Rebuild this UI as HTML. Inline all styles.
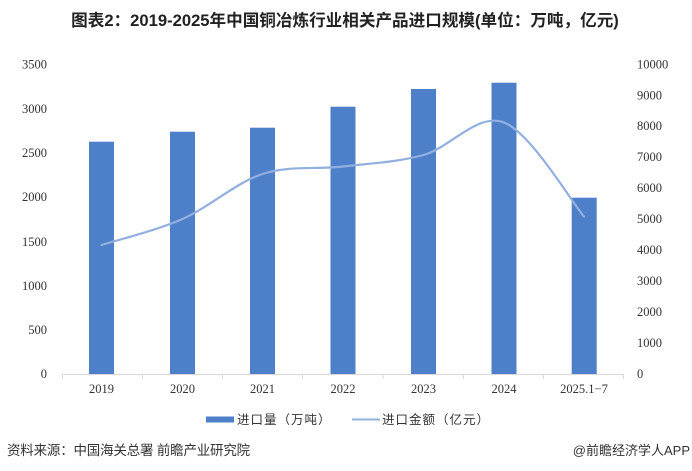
<!DOCTYPE html>
<html>
<head>
<meta charset="utf-8">
<style>
  html,body{margin:0;padding:0;background:#fff;}
  body{width:692px;height:471px;overflow:hidden;}
  svg{display:block;}
  .title{font-family:"Liberation Sans","Noto Sans CJK SC",sans-serif;font-weight:bold;font-size:16.6px;fill:#222;}
  .tick{font-family:"Liberation Serif","Noto Serif CJK SC",serif;font-size:12.5px;fill:#333;}
  .leg{font-family:"Liberation Sans","Noto Sans CJK SC",sans-serif;font-size:12.5px;fill:#333;letter-spacing:1px;}
  .src{font-family:"Liberation Sans","Noto Sans CJK SC",sans-serif;font-size:13.5px;fill:#333;}
</style>
</head>
<body>
<svg width="692" height="471" viewBox="0 0 692 471" xmlns="http://www.w3.org/2000/svg">
  <rect width="692" height="471" fill="#fff"/>
  <text class="title" x="345" y="26" text-anchor="middle">图表2：2019-2025年中国铜冶炼行业相关产品进口规模(单位：万吨，亿元)</text>

  <!-- left axis labels -->
  <g class="tick" text-anchor="end">
    <text x="47" y="378">0</text>
    <text x="47" y="334">500</text>
    <text x="47" y="290">1000</text>
    <text x="47" y="246">1500</text>
    <text x="47" y="201">2000</text>
    <text x="47" y="157">2500</text>
    <text x="47" y="113">3000</text>
    <text x="47" y="68.5">3500</text>
  </g>
  <!-- right axis labels -->
  <g class="tick" text-anchor="start">
    <text x="637" y="378">0</text>
    <text x="637" y="347">1000</text>
    <text x="637" y="316">2000</text>
    <text x="637" y="285">3000</text>
    <text x="637" y="254">4000</text>
    <text x="637" y="223">5000</text>
    <text x="637" y="192">6000</text>
    <text x="637" y="161">7000</text>
    <text x="637" y="130">8000</text>
    <text x="637" y="99.5">9000</text>
    <text x="637" y="68.5">10000</text>
  </g>

  <!-- bars -->
  <g fill="#4d80c8">
    <rect x="89" y="141.7" width="25" height="232.3"/>
    <rect x="170" y="131.7" width="25" height="242.3"/>
    <rect x="250" y="127.7" width="25" height="246.3"/>
    <rect x="330.5" y="106.7" width="25" height="267.3"/>
    <rect x="411" y="89" width="25" height="285"/>
    <rect x="491.5" y="82.7" width="25" height="291.3"/>
    <rect x="571.7" y="197.7" width="25" height="176.3"/>
  </g>

  <!-- x axis -->
  <g stroke="#d9d9d9" stroke-width="1">
    <line x1="62" y1="374.5" x2="624" y2="374.5"/>
    <line x1="62.5" y1="374" x2="62.5" y2="379"/>
    <line x1="142.5" y1="374" x2="142.5" y2="379"/>
    <line x1="222.5" y1="374" x2="222.5" y2="379"/>
    <line x1="302.5" y1="374" x2="302.5" y2="379"/>
    <line x1="383" y1="374" x2="383" y2="379"/>
    <line x1="463.5" y1="374" x2="463.5" y2="379"/>
    <line x1="543.5" y1="374" x2="543.5" y2="379"/>
    <line x1="623.5" y1="374" x2="623.5" y2="379"/>
  </g>
  <g class="tick" text-anchor="middle">
    <text x="101.5" y="393">2019</text>
    <text x="182.5" y="393">2020</text>
    <text x="262.5" y="393">2021</text>
    <text x="343" y="393">2022</text>
    <text x="423.5" y="393">2023</text>
    <text x="504" y="393">2024</text>
    <text x="584" y="393">2025.1−7</text>
  </g>

  <!-- line -->
  <path d="M101.5,245 C115,240.67 155.67,230.83 182.5,219 C209.33,207.17 235.75,182.75 262.5,174 C289.25,165.25 316.17,169.67 343,166.5 C369.83,163.33 396.67,162.33 423.5,155 C450.33,147.67 477.25,112.25 504,122.5 C530.75,132.75 570.67,200.83 584,216.5"
        fill="none" stroke="#93afdf" stroke-width="2.2" stroke-linecap="round"/>

  <!-- legend -->
  <rect x="206" y="416.5" width="28" height="6" fill="#4d80c8"/>
  <text class="leg" x="237" y="424">进口量（万吨）</text>
  <line x1="352" y1="419.5" x2="380" y2="419.5" stroke="#93afdf" stroke-width="2"/>
  <text class="leg" x="382" y="424">进口金额（亿元）</text>

  <!-- source -->
  <text class="src" x="7" y="455" letter-spacing="-0.2">资料来源：中国海关总署 前瞻产业研究院</text>
  <text class="src" x="690" y="455" text-anchor="end" style="font-size:13px">@前瞻经济学人APP</text>
</svg>
</body>
</html>
